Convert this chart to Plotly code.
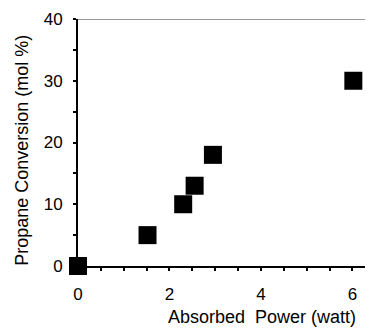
import plotly.graph_objects as go

# ── DATA ─────────────────────────────
power_watt = [0.0, 1.52, 2.3, 2.55, 2.95, 6.02]
conversion_mol = [0.0, 5.0, 10.0, 13.0, 18.0, 30.0]

x_tick_vals = [0, 2, 4, 6]
y_tick_vals = [0, 10, 20, 30, 40]
x_title = "Absorbed  Power (watt)"
y_title = "Propane Conversion (mol %)"
# ─────────────────────────────────────

FONT = "Liberation Sans, Arial, sans-serif"

fig = go.Figure()

fig.add_trace(go.Scatter(
    x=power_watt, y=conversion_mol,
    mode="markers",
    marker=dict(symbol="square", size=18, color="black"),
    cliponaxis=False,
    showlegend=False,
))

fig.update_xaxes(
    range=[0, 6.45],
    tickvals=x_tick_vals,
    ticks="outside", ticklen=3, tickwidth=1.5, tickcolor="black",
    minor=dict(dtick=0.5, ticks="outside", ticklen=3, tickwidth=1.5, tickcolor="black"),
    showline=True, linecolor="black", linewidth=2,
    showgrid=False, zeroline=False,
    ticklabelstandoff=9,
    tickfont=dict(family=FONT, size=17, color="black"),
    automargin=False,
)
fig.update_yaxes(
    range=[0, 40],
    tickvals=y_tick_vals,
    ticks="outside", ticklen=3, tickwidth=1.5, tickcolor="black",
    minor=dict(dtick=5, ticks="outside", ticklen=3, tickwidth=1.5, tickcolor="black"),
    showline=True, linecolor="black", linewidth=2,
    showgrid=False, zeroline=False,
    ticklabelstandoff=7,
    tickfont=dict(family=FONT, size=17, color="black"),
    automargin=False,
)

# top border line
fig.add_shape(type="line", xref="paper", yref="y", x0=0, x1=1, y0=40, y1=40,
              line=dict(color="#333333", width=1))

fig.add_annotation(text=x_title, xref="paper", yref="paper", x=0.625, y=-0.205,
                   showarrow=False, xanchor="center", yanchor="middle",
                   font=dict(family=FONT, size=18, color="black"))
fig.add_annotation(text=y_title, xref="paper", yref="paper", x=-0.19, y=0.47,
                   showarrow=False, textangle=-90, xanchor="center", yanchor="middle",
                   font=dict(family=FONT, size=18, color="black"))

# page body has an 8px margin, so the figure is 8px smaller and shifted
fig.update_layout(
    width=365, height=320,
    margin=dict(l=70, r=0, t=11, b=62),
    plot_bgcolor="white", paper_bgcolor="white",
)

fig.write_html("out.html")
